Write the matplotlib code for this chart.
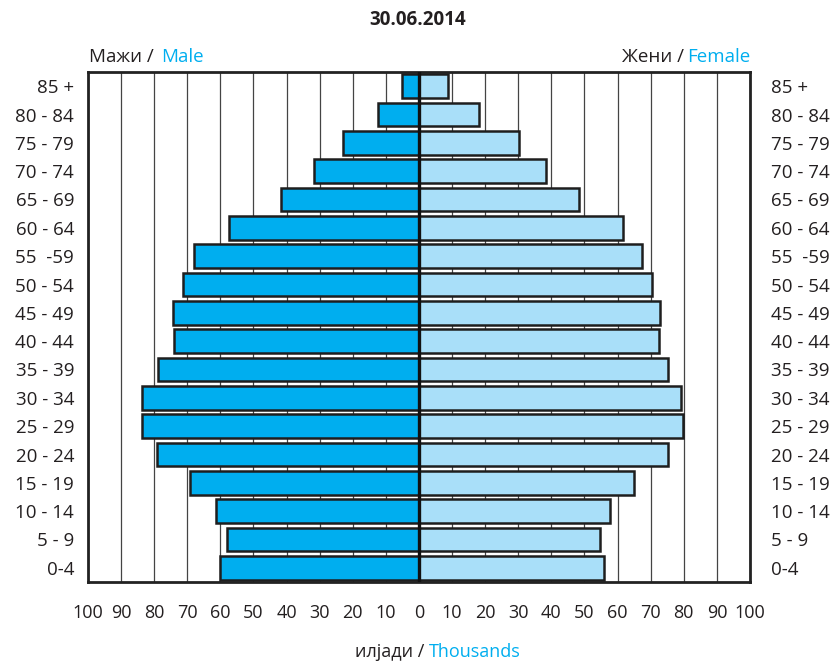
import matplotlib
matplotlib.use("Agg")
import matplotlib.pyplot as plt
import numpy as np

plt.rcParams['font.family'] = ['Open Sans', 'DejaVu Sans']

age_groups = ["0-4", "5 - 9", "10 - 14", "15 - 19", "20 - 24", "25 - 29", "30 - 34",
              "35 - 39", "40 - 44", "45 - 49", "50 - 54", "55  -59", "60 - 64",
              "65 - 69", "70 - 74", "75 - 79", "80 - 84", "85 +"]
male = [60.2, 57.9, 61.4, 69.2, 79.3, 83.8, 83.6, 78.9, 74.0, 74.2, 71.4, 67.9,
        57.5, 41.7, 31.6, 23.0, 12.5, 5.1]
female = [55.9, 54.6, 57.7, 65.1, 75.2, 79.8, 79.3, 75.3, 72.4, 72.7, 70.5, 67.4,
          61.5, 48.2, 38.4, 30.1, 18.2, 8.7]
x_ticks = [-100, -90, -80, -70, -60, -50, -40, -30, -20, -10, 0,
           10, 20, 30, 40, 50, 60, 70, 80, 90, 100]
x_labels = [str(abs(t)) for t in x_ticks]

male_color = "#00AEEF"
female_color = "#A9DFF9"
text_blue = "#00AEEF"
text_dark = "#231F20"

W, H = 837, 662
fig = plt.figure(figsize=(W / 100, H / 100), dpi=100)
ax = fig.add_axes([88 / W, 1 - 582 / H, (750 - 88) / W, (582 - 72) / H])

y = np.arange(len(age_groups))
ax.barh(y, [-m for m in male], height=0.84, color=male_color,
        edgecolor="#1E1E1E", linewidth=1.8, zorder=3)
ax.barh(y, female, height=0.84, color=female_color,
        edgecolor="#1E1E1E", linewidth=1.8, zorder=3)

ax.set_xlim(-100, 100)
ax.set_ylim(-0.5, len(age_groups) - 0.5)

for t in x_ticks:
    if t != 0:
        ax.axvline(t, color="#444444", linewidth=0.9, zorder=1)
ax.axvline(0, color="#111111", linewidth=2.4, zorder=5)

for s in ax.spines.values():
    s.set_linewidth(2.0)
    s.set_color("#222222")

ax.set_xticks(x_ticks)
ax.set_xticklabels(x_labels, fontsize=13, color=text_dark)
ax.tick_params(axis='x', length=0, pad=16)
ax.set_yticks(y)
ax.set_yticklabels(age_groups, fontsize=13.5, color=text_dark)
ax.tick_params(axis='y', length=0, pad=10)

ax2 = ax.twinx()
ax2.set_ylim(ax.get_ylim())
ax2.set_yticks(y)
ax2.set_yticklabels(age_groups, fontsize=13.5, color=text_dark, ha='left')
ax2.tick_params(axis='y', length=0, pad=15)
for s in ax2.spines.values():
    s.set_visible(False)

def fx(px):
    return px / W

def fy(py):
    return 1 - py / H

fig.text(fx(418), fy(20), "30.06.2014", fontsize=13.5, fontweight='bold',
         color=text_dark, ha='center', va='center')

fig.text(fx(89), fy(57), "Мажи /", fontsize=13.5, color=text_dark, ha='left', va='center')
fig.text(fx(161), fy(57), "Male", fontsize=13.5, color=text_blue, ha='left', va='center')

fig.text(fx(684), fy(57), "Жени /", fontsize=13.5, color=text_dark, ha='right', va='center')
fig.text(fx(750), fy(57), "Female", fontsize=13.5, color=text_blue, ha='right', va='center')

fig.text(fx(424), fy(652), "илјади /", fontsize=13, color=text_dark, ha='right', va='center')
fig.text(fx(429), fy(652), "Thousands", fontsize=13, color=text_blue, ha='left', va='center')

fig.savefig("out.png", dpi=100)
